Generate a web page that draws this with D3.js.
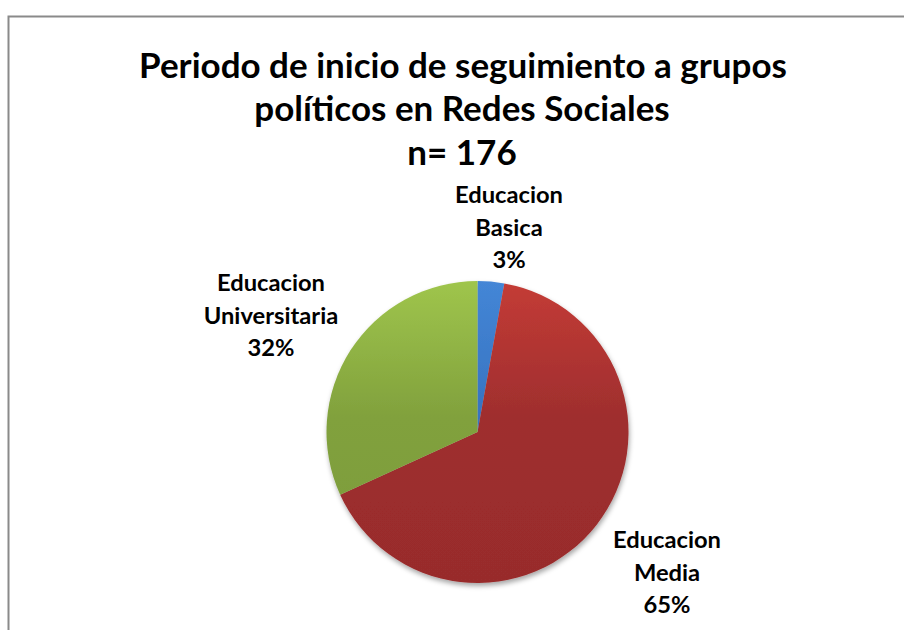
<!DOCTYPE html>
<html><head><meta charset="utf-8">
<script src="https://cdn.jsdelivr.net/npm/d3@7"></script>
<style>body{margin:0;background:#fff}svg{display:block}</style>
</head><body>
<script>
const categories = ["Educacion Basica", "Educacion Media", "Educacion Universitaria"];
const labelLines = [["Educacion","Basica"],["Educacion","Media"],["Educacion","Universitaria"]];
const counts = [5, 115, 56];
const percentLabels = ["3%", "65%", "32%"];
const titleLines = ["Periodo de inicio de seguimiento a grupos", "políticos en Redes Sociales", "n= 176"];

const W = 904, H = 630;
const svg = d3.select("body").append("svg").attr("width", W).attr("height", H);
const defs = svg.append("defs");
const font = "Lato, 'Open Sans', sans-serif";

// frame
svg.append("rect").attr("x", 8.5).attr("y", 16.5).attr("width", 920).attr("height", 640)
  .attr("fill", "none").attr("stroke", "#8a8a8a").attr("stroke-width", 2);

// gradients
const grads = [
  {id:"gB", top:"#4486d6", bot:"#3570bd"},
  {id:"gM", top:"#c43c36", bot:"#982c2c"},
  {id:"gU", top:"#9fc54c", bot:"#7c9b3a"}
];
grads.forEach(g => {
  const lg = defs.append("linearGradient").attr("id", g.id)
    .attr("gradientUnits","userSpaceOnUse").attr("x1",0).attr("y1",-151).attr("x2",0).attr("y2",151);
  lg.append("stop").attr("offset","0").attr("stop-color", g.top);
  lg.append("stop").attr("offset","0.45").attr("stop-color", d3.interpolateRgb(g.top,g.bot)(0.85));
  lg.append("stop").attr("offset","1").attr("stop-color", g.bot);
});
const f = defs.append("filter").attr("id","sh").attr("x","-20%").attr("y","-20%").attr("width","140%").attr("height","140%");
f.append("feDropShadow").attr("dx",1).attr("dy",3).attr("stdDeviation",2.5).attr("flood-color","#000").attr("flood-opacity",0.35);

const cx = 477.5, cy = 432, R = 151;
const pie = d3.pie().sort(null).value(d => d)(counts);
const arc = d3.arc().innerRadius(0).outerRadius(R);
const g = svg.append("g").attr("transform", `translate(${cx},${cy})`).attr("filter","url(#sh)");
g.selectAll("path").data(pie).join("path")
  .attr("d", arc).attr("fill", (d,i) => `url(#${grads[i].id})`);

// fit helper
function fit(textSel, target) {
  const w = textSel.node().getComputedTextLength();
  const fs = parseFloat(textSel.attr("font-size"));
  textSel.attr("font-size", fs * target / w);
  return fs * target / w;
}

// title
const t1 = svg.append("text").attr("x", 463).attr("y", 78).attr("text-anchor","middle")
  .attr("font-family", font).attr("font-weight","bold").attr("font-size", 32).attr("fill","#000").text(titleLines[0]);
const tfs = fit(t1, 648);
svg.append("text").attr("x", 462).attr("y", 121).attr("text-anchor","middle")
  .attr("font-family", font).attr("font-weight","bold").attr("font-size", tfs).text(titleLines[1]);
svg.append("text").attr("x", 462).attr("y", 165).attr("text-anchor","middle")
  .attr("font-family", font).attr("font-weight","bold").attr("font-size", tfs).text(titleLines[2]);

// labels
const labelPos = [{x:509, y:203}, {x:667, y:548}, {x:271, y:291}];
const probe = svg.append("text").attr("font-family", font).attr("font-weight","bold").attr("font-size", 22).text("Educacion");
const lfs = fit(probe, 108);
probe.remove();
labelPos.forEach((p, i) => {
  const lines = labelLines[i].concat([percentLabels[i]]);
  const t = svg.append("text").attr("text-anchor","middle").attr("font-family", font)
    .attr("font-weight","bold").attr("font-size", lfs).attr("fill","#000");
  lines.forEach((l, k) => t.append("tspan").attr("x", p.x).attr("y", p.y + k*32.5).text(l));
});
</script>
</body></html>
